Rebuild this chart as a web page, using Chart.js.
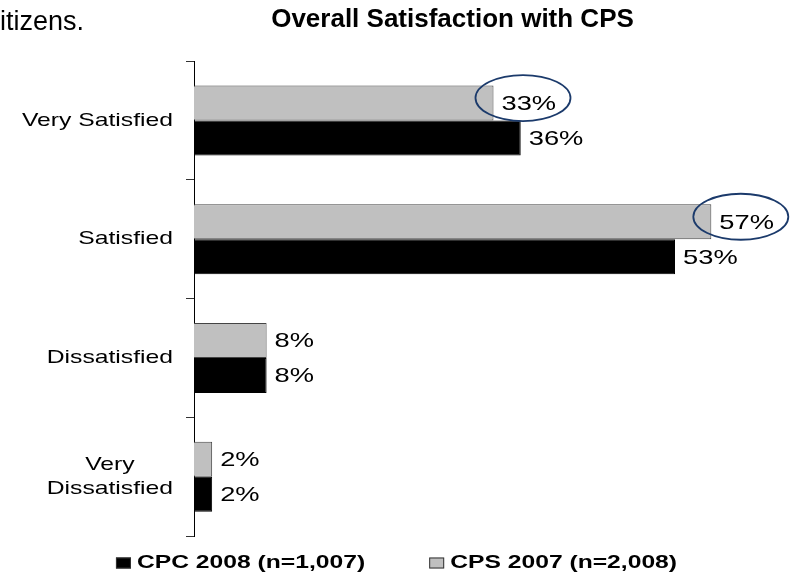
<!DOCTYPE html>
<html>
<head>
<meta charset="utf-8">
<script src="https://cdn.jsdelivr.net/npm/chart.js@4.4.1/dist/chart.umd.min.js"></script>
<style>
  body { margin: 0; background: #fff; }
  #wrap { position: relative; width: 793px; height: 575px; }
  #note { position: absolute; left: 0; top: 8px; font: 27px/27px 'Liberation Sans', Arial, sans-serif; color: #000; }
</style>
</head>
<body>
<div id="wrap">
  <canvas id="grafico"></canvas>
  <div id="note">itizens.</div>
</div>
<script>
const categories = ['Very Satisfied', 'Satisfied', 'Dissatisfied', ['Very', 'Dissatisfied']];
const cps2007 = [33, 57, 8, 2];
const cpc2008 = [36, 53, 8, 2];
const circled = [0, 1]; // CPS 2007 bars with a ring round the label

const FONT = "'Liberation Sans', Arial, sans-serif";
const SX_LABEL = 1.3;   // the chart object in the slide is stretched sideways
const SX_LEGEND = 1.37;

function wideText(ctx, text, x, y, sx) {
  ctx.save();
  ctx.translate(x, y);
  ctx.scale(sx, 1);
  ctx.fillText(text, 0, 0);
  ctx.restore();
}

const textPlugin = {
  id: 'textPlugin',
  afterDatasetsDraw(chart) {
    const ctx = chart.ctx;
    const yScale = chart.scales.y;
    ctx.save();
    ctx.fillStyle = '#000';
    ctx.textBaseline = 'middle';

    // category labels, right edge just left of the ticks
    ctx.font = `19px ${FONT}`;
    ctx.textAlign = 'center';
    chart.data.labels.forEach((lab, i) => {
      const lines = Array.isArray(lab) ? lab : [lab];
      const widest = Math.max(...lines.map(l => ctx.measureText(l).width)) * SX_LABEL;
      const cx = chart.chartArea.left - 21 - widest / 2;
      const top = yScale.getPixelForValue(i) - (lines.length - 1) * 12;
      lines.forEach((l, k) => wideText(ctx, l, cx, top + k * 24, SX_LABEL));
    });

    // value labels
    ctx.font = `21px ${FONT}`;
    ctx.textAlign = 'left';
    chart.data.datasets.forEach((ds, d) => {
      chart.getDatasetMeta(d).data.forEach((bar, i) => {
        wideText(ctx, ds.data[i] + '%', bar.x + 8, bar.y + 1, SX_LABEL);
      });
    });

    // rings
    const meta = chart.getDatasetMeta(0);
    ctx.strokeStyle = '#1b3a6b';
    ctx.lineWidth = 1.8;
    circled.forEach(i => {
      const bar = meta.data[i];
      ctx.beginPath();
      ctx.ellipse(bar.x + 29.5, bar.y - 5, 47.5, 23, 0, 0, Math.PI * 2);
      ctx.stroke();
    });
    ctx.restore();
  },
  afterDraw(chart) {
    const ctx = chart.ctx;
    const items = chart.data.datasets.slice().reverse();
    const boxW = 15, boxH = 11, boxGap = 6, itemGap = 64;
    ctx.save();
    ctx.font = `bold 18px ${FONT}`;
    const widths = items.map(ds => boxW + boxGap + ctx.measureText(ds.label).width * SX_LEGEND);
    const total = widths.reduce((a, b) => a + b, 0) + itemGap * (items.length - 1);
    let x = chart.width / 2 - total / 2;
    const y = 563;
    ctx.textBaseline = 'middle';
    ctx.textAlign = 'left';
    items.forEach((ds, i) => {
      ctx.fillStyle = ds.backgroundColor;
      ctx.fillRect(x, y - boxH / 2, boxW, boxH);
      ctx.strokeStyle = '#333';
      ctx.lineWidth = 1;
      ctx.strokeRect(x + 0.5, y - boxH / 2 + 0.5, boxW - 1, boxH - 1);
      ctx.fillStyle = '#000';
      wideText(ctx, ds.label, x + boxW + boxGap, y, SX_LEGEND);
      x += widths[i] + itemGap;
    });
    ctx.restore();
  }
};

new Chart(document.getElementById('grafico').getContext('2d'), {
  type: 'bar',
  data: {
    labels: categories,
    datasets: [
      {
        label: 'CPS 2007 (n=2,008)',
        data: cps2007,
        backgroundColor: '#c0c0c0',
        borderColor: '#444',
        borderWidth: 1
      },
      {
        label: 'CPC 2008 (n=1,007)',
        data: cpc2008,
        backgroundColor: '#000',
        borderColor: '#000',
        borderWidth: 1
      }
    ]
  },
  options: {
    indexAxis: 'y',
    responsive: true,
    maintainAspectRatio: false,
    animation: false,
    categoryPercentage: 0.59,
    barPercentage: 1.0,
    layout: { padding: { left: 112, right: 0, top: 0, bottom: 39 } },
    plugins: {
      legend: { display: false },
      tooltip: { enabled: false },
      title: {
        display: true,
        text: 'Overall Satisfaction with CPS',
        color: '#000',
        font: { family: FONT, size: 26, weight: 'bold' },
        padding: { top: 4, bottom: 26 }
      }
    },
    scales: {
      x: { display: false, min: 0, max: 66 },
      y: {
        afterFit(scale) { scale.width = 82; },
        ticks: { display: false },
        grid: {
          offset: true,
          drawOnChartArea: false,
          drawTicks: true,
          tickLength: 8,
          color: '#333'
        },
        border: { display: true, color: '#000', width: 1 }
      }
    }
  },
  plugins: [textPlugin]
});
</script>
</body>
</html>
